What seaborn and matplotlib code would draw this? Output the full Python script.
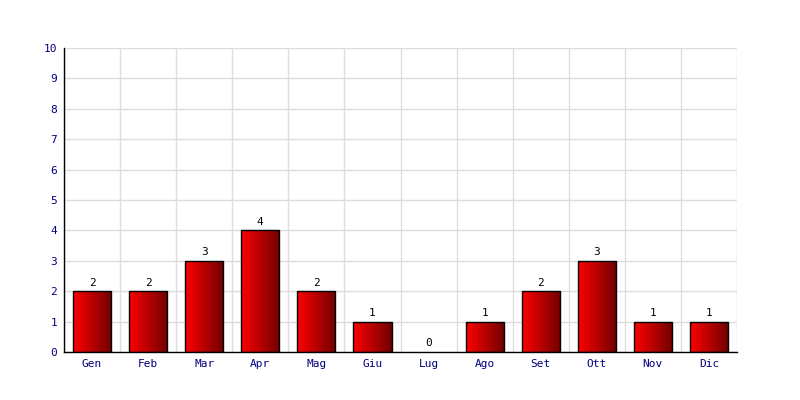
import numpy as np
import pandas as pd
import matplotlib
matplotlib.use('Agg')
import matplotlib.pyplot as plt
import seaborn as sns
from matplotlib.colors import LinearSegmentedColormap

# Chart data
months = ['Gen', 'Feb', 'Mar', 'Apr', 'Mag', 'Giu', 'Lug', 'Ago', 'Set', 'Ott', 'Nov', 'Dic']
counts = [2, 2, 3, 4, 2, 1, 0, 1, 2, 3, 1, 1]
y_ticks = list(range(0, 11))

df = pd.DataFrame({'Mese': months, 'Valore': counts})

sns.set_style('white')
plt.rcParams['font.family'] = ['DejaVu Sans Mono']

fig = plt.figure(figsize=(8, 4), dpi=100)
ax = fig.add_axes([0.08, 0.12, 0.84125, 0.76])

sns.barplot(data=df, x='Mese', y='Valore', ax=ax, width=0.68,
            color='#cc0000', edgecolor='black', linewidth=1, zorder=3)

# Horizontal red gradient inside each bar
cmap = LinearSegmentedColormap.from_list('redgrad', ['#ff0000', '#700000'])
grad = np.linspace(0, 1, 256).reshape(1, -1)
for p in ax.patches:
    x0, y0 = p.get_x(), p.get_y()
    w, h = p.get_width(), p.get_height()
    if h <= 0:
        p.set_visible(False)
        continue
    im = ax.imshow(grad, cmap=cmap, aspect='auto',
                   extent=[x0, x0 + w, y0, y0 + h], zorder=3.5)
    im.set_clip_path(p)
    p.set_facecolor('none')
    p.set_zorder(4)

for i, v in enumerate(counts):
    ax.text(i, v + 0.12, str(v), ha='center', va='bottom', fontsize=8, color='black')

ax.set_xlim(-0.5, len(months) - 0.5)
ax.set_ylim(0, 10)
ax.set_yticks(y_ticks)
ax.set_xticks(np.arange(-0.5, len(months)), minor=True)
ax.grid(True, which='minor', axis='x', color='#dddddd', linewidth=1, zorder=0)
ax.grid(True, which='major', axis='y', color='#dddddd', linewidth=1, zorder=0)
ax.set_axisbelow(True)

ax.set_xlabel('')
ax.set_ylabel('')
ax.tick_params(axis='both', which='both', length=0, labelsize=8, labelcolor='#000080', pad=5)

for s in ['top', 'right']:
    ax.spines[s].set_visible(False)
for s in ['left', 'bottom']:
    ax.spines[s].set_color('black')
    ax.spines[s].set_linewidth(1)
    ax.spines[s].set_zorder(5)

fig.savefig('out.png', dpi=100)
